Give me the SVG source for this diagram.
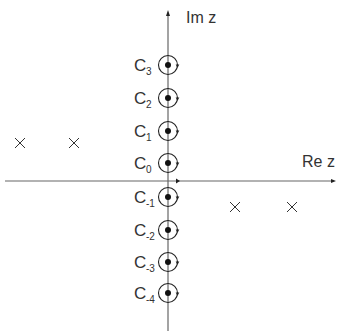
<svg xmlns="http://www.w3.org/2000/svg" width="338" height="331" viewBox="0 0 338 331">
<style>
.ax{stroke:#666;stroke-width:1.2;fill:none}
.ring{stroke:#222;stroke-width:1.1;fill:none}
.dot{fill:#111}
.tip{fill:#222}
.x{stroke:#333;stroke-width:1}
text{font-family:"Liberation Sans",Arial,sans-serif;fill:#333}
.lab{font-size:17px}
.sub{font-size:10px}
.axl{font-size:16px}
</style>
<defs>
<g id="contour">
<circle class="ring" cx="0" cy="0" r="9.5"/>
<circle class="dot" cx="0" cy="0" r="3"/>
<path class="tip" d="M7.7,-0.5 L11.3,-0.5 L9.5,3 Z"/>
</g>
</defs>
<g id="connectors">
<line class="ax" x1="5" y1="181" x2="333" y2="181"/>
<path class="tip" d="M336,181 L331,179 L331,183 Z"/>
<line class="ax" x1="168" y1="14" x2="168" y2="331"/>
<path class="tip" d="M168,10 L166,16 L170,16 Z"/>
<path class="tip" d="M180,181 L176,178.5 L176,183.5 Z"/>
</g>
<g id="axis-labels">
<text class="axl" x="186" y="23">Im z</text>
<text class="axl" x="302" y="167">Re z</text>
</g>
<g id="poles">
<path class="x" d="M15,138 L25,148 M25,138 L15,148"/>
<path class="x" d="M69,138 L79,148 M79,138 L69,148"/>
<path class="x" d="M230,202 L240,212 M240,202 L230,212"/>
<path class="x" d="M287,202 L297,212 M297,202 L287,212"/>
</g>
<g id="C3"><use href="#contour" x="168" y="65"/><text class="lab" x="134" y="71">C</text><text class="sub" x="146" y="75">3</text></g>
<g id="C2"><use href="#contour" x="168" y="98"/><text class="lab" x="134" y="104">C</text><text class="sub" x="146" y="108">2</text></g>
<g id="C1"><use href="#contour" x="168" y="131"/><text class="lab" x="134" y="137">C</text><text class="sub" x="146" y="141">1</text></g>
<g id="C0"><use href="#contour" x="168" y="163"/><text class="lab" x="134" y="169">C</text><text class="sub" x="146" y="173">0</text></g>
<g id="C-1"><use href="#contour" x="168" y="197"/><text class="lab" x="134" y="203">C</text><text class="sub" x="146" y="207">-1</text></g>
<g id="C-2"><use href="#contour" x="168" y="230"/><text class="lab" x="134" y="236">C</text><text class="sub" x="146" y="240">-2</text></g>
<g id="C-3"><use href="#contour" x="168" y="262"/><text class="lab" x="134" y="268">C</text><text class="sub" x="146" y="272">-3</text></g>
<g id="C-4"><use href="#contour" x="168" y="293"/><text class="lab" x="134" y="299">C</text><text class="sub" x="146" y="303">-4</text></g>
</svg>
